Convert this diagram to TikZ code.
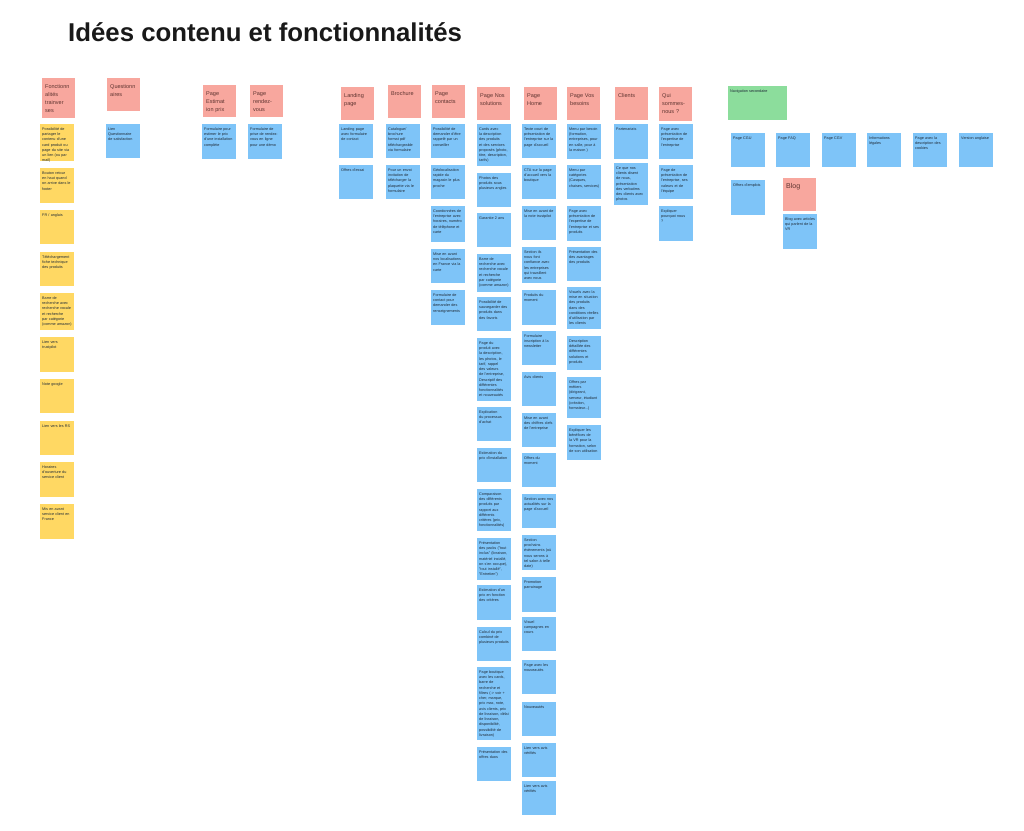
\documentclass[tikz,border=0pt]{standalone}
\usepackage{fontspec}
\setmainfont{Liberation Sans}
\hyphenpenalty=10000
\definecolor{Salmon}{HTML}{F8A79E}
\definecolor{Sky}{HTML}{7EC4F8}
\definecolor{Butter}{HTML}{FFD863}
\definecolor{Mint}{HTML}{8CDD9C}
\definecolor{Ink}{HTML}{1F2A36}
\definecolor{Brick}{HTML}{5E3430}
\tikzset{head/.style={fill=Salmon,anchor=north west,inner sep=.9mm,text width=8.1mm,text height=2.1mm,align=left,font=\fontsize{4.7}{6.8}\selectfont,text=Brick},note/.style={fill=Sky,anchor=north west,inner sep=.6mm,text width=9mm,text height=1.2mm,align=left,font=\fontsize{3.2}{4.5}\selectfont,text=Ink},todo/.style={note,fill=Butter}}

\begin{document}
\begin{tikzpicture}[x=0.03cm,y=-0.03cm]
\useasboundingbox (0,0) rectangle (1024,831);
\node[anchor=base west,inner sep=0,font=\fontsize{22}{26}\selectfont\bfseries,text=black!90] (titre) at (68,41) {Idées contenu et fonctionnalités};
% en-tetes
\foreach \nm/\x/\y/\hh/\txt in {fonc/42/78/40/{Fonctionn\\alités\\trainver\\ses},quest/107/78/33/{Questionn\\aires},estim/203/85/32/{Page\\Estimat\\ion prix},rdv/250/85/32/{Page\\rendez-\\vous},land/341/87/33/{Landing\\page},broch/388/85/33/{Brochure},cont/432/85/33/{Page\\contacts},sol/477/87/33/{Page Nos\\solutions},home/524/87/33/{Page\\Home},bes/567/87/33/{Page Vos\\besoins},cli/615/87/33/{Clients},qui/659/87/34/{Qui\\sommes-\\nous ?}}{\pgfmathsetmacro\dd{(\hh-13)*0.3}\node[head,text depth=\dd mm] (\nm-h) at (\x,\y) {\txt};}
\node[head,text depth=6mm,font=\fontsize{6}{7}\selectfont] (blog-h) at (783,178) {Blog};
\node[note,fill=Mint,text width=16.5mm,text depth=7.8mm] (nav) at (728,86) {Navigation secondaire};
% fonctionnalites transverses
\foreach \y/\hh/\txt [count=\k] in {124/37/{Possibilité de partager le contenu d'une card produit ou page du site via un lien (ou par mail)},168/35/{Bouton retour en haut quand on arrive dans le footer},210/34/{FR / anglais},252/34/{Téléchargement fiche technique des produits},293/37/{Barre de recherche avec recherche vocale et recherche par catégorie (comme amazon)},337/35/{Lien vers trustpilot},379/34/{Note google},421/34/{Lien vers les RS},462/35/{Horaires d'ouverture du service client},504/35/{Mis en avant service client en France}}{\pgfmathsetmacro\dd{(\hh-8)*0.3}\node[todo,text depth=\dd mm] (fonc-\k) at (40,\y) {\txt};}
\node[note,text depth=7.8mm] (quest-1) at (106,124) {Lien Questionnaire de satisfaction};
\node[note,text depth=8.1mm] (estim-1) at (202,124) {Formulaire pour estimer le prix d'une installation complète};
\node[note,text depth=8.1mm] (rdv-1) at (248,124) {Formulaire de prise de rendez-vous en ligne pour une démo};
\foreach \y/\hh/\txt [count=\k] in {124/34/{Landing page avec formulaire de contact},165/34/{Offres d'essai}}{\pgfmathsetmacro\dd{(\hh-8)*0.3}\node[note,text depth=\dd mm] (land-\k) at (339,\y) {\txt};}
\foreach \y/\hh/\txt [count=\k] in {124/34/{Catalogue/ brochure format pdf téléchargeable via formulaire},165/34/{Pour un envoi invitation de télécharger la plaquette via le formulaire}}{\pgfmathsetmacro\dd{(\hh-8)*0.3}\node[note,text depth=\dd mm] (broch-\k) at (386,\y) {\txt};}
\foreach \y/\hh/\txt [count=\k] in {124/34/{Possibilité de demander d'être rappelé par un conseiller},165/34/{Géolocalisation rapide du magasin le plus proche},206/36/{Coordonnées de l'entreprise avec horaires, numéro de téléphone et carte},249/34/{Mise en avant nos localisations en France via la carte},290/35/{Formulaire de contact pour demander des renseignements}}{\pgfmathsetmacro\dd{(\hh-8)*0.3}\node[note,text depth=\dd mm] (cont-\k) at (431,\y) {\txt};}
% page nos solutions
\foreach \y/\hh/\txt [count=\k] in {124/42/{Cards avec la description des produits et des services proposés (photo, titre, description, tarifs)},173/34/{Photos des produits sous plusieurs angles},213/34/{Garantie 2 ans},254/38/{Barre de recherche avec recherche vocale et recherche par catégorie (comme amazon)},297/34/{Possibilité de sauvegarder des produits dans des favoris},338/63/{Page du produit avec la description, les photos, le tarif, rappel des valeurs de l'entreprise, Descriptif des différentes fonctionnalités et nouveautés},407/34/{Explication du processus d'achat},448/34/{Estimation du prix d'installation},489/42/{Comparaison des différents produits par rapport aux différents critères (prix, fonctionnalités)},538/42/{Présentation des packs ("tout inclus" (livraison, matériel installé, on s'en occupe), "tout installé", "Entretien")},585/35/{Estimation d'un prix en fonction des critères},627/34/{Calcul du prix combiné de plusieurs produits},667/73/{Page boutique avec les cards, barre de recherche et filtres (-> voir + cher, marque, prix max, note, avis clients, prix de livraison, délai de livraison, disponibilité, possibilité de livraison)},747/34/{Présentation des offres duos}}{\pgfmathsetmacro\dd{(\hh-8)*0.3}\node[note,text depth=\dd mm] (sol-\k) at (477,\y) {\txt};}
% page home
\foreach \y/\hh/\txt [count=\k] in {124/34/{Texte court de présentation de l'entreprise sur la page d'accueil},165/34/{CTA sur la page d'accueil vers la boutique},206/34/{Mise en avant de la note trustpilot},247/36/{Section ils nous font confiance avec les entreprises qui travaillent avec nous},290/35/{Produits du moment},331/34/{Formulaire inscription à la newsletter},372/34/{Avis clients},413/34/{Mise en avant des chiffres clefs de l'entreprise},453/34/{Offres du moment},494/34/{Section avec nos actualités sur la page d'accueil},535/35/{Section prochains évènements (où nous serons à tel salon à telle date)},577/35/{Promotion parrainage},617/34/{Visuel campagnes en cours},660/34/{Page avec les nouveautés},702/34/{Nouveautés},743/34/{Lien vers avis vérifiés},781/34/{Lien vers avis vérifiés}}{\pgfmathsetmacro\dd{(\hh-8)*0.3}\node[note,text depth=\dd mm] (home-\k) at (522,\y) {\txt};}
% page vos besoins
\foreach \y/\hh/\txt [count=\k] in {124/35/{Menu par besoin (formation, entreprises, pour en salle, pour à la maison )},165/34/{Menu par catégories (Casques, chaises, services)},206/35/{Page avec présentation de l'expertise de l'entreprise et ses produits},247/34/{Présentation des des avantages des produits},287/42/{Visuels avec la mise en situation des produits dans des conditions réelles d'utilisation par les clients},336/34/{Description détaillée des différentes solutions et produits},377/41/{Offres par métiers (dirigeant, serveur, étudiant (création, formateur...)},425/35/{Expliquer les bénéfices de la VR pour la formation, selon de son utilisation}}{\pgfmathsetmacro\dd{(\hh-8)*0.3}\node[note,text depth=\dd mm] (bes-\k) at (567,\y) {\txt};}
\foreach \y/\hh/\txt [count=\k] in {124/35/{Partenariats},163/42/{Ce que nos clients disent de nous, présentation des verbatims des clients avec photos}}{\pgfmathsetmacro\dd{(\hh-8)*0.3}\node[note,text depth=\dd mm] (cli-\k) at (614,\y) {\txt};}
\foreach \y/\hh/\txt [count=\k] in {124/35/{Page avec présentation de l'expertise de l'entreprise},165/34/{Page de présentation de l'entreprise, ses valeurs et de l'équipe},206/35/{Expliquer pourquoi nous ?}}{\pgfmathsetmacro\dd{(\hh-8)*0.3}\node[note,text depth=\dd mm] (qui-\k) at (659,\y) {\txt};}
% navigation secondaire
\foreach \x/\txt [count=\k] in {731/{Page CGU},776/{Page FAQ},822/{Page CGV},867/{Informations légales},913/{Page avec la description des cookies},959/{Version anglaise}}{\node[note,text depth=7.8mm] (nav-\k) at (\x,133) {\txt};}
\node[note,text depth=8.1mm] (emploi) at (731,180) {Offres d'emplois};
\node[note,text depth=8.1mm] (blog-1) at (783,214) {Blog avec articles qui parlent de la VR};
\end{tikzpicture}
\end{document}
